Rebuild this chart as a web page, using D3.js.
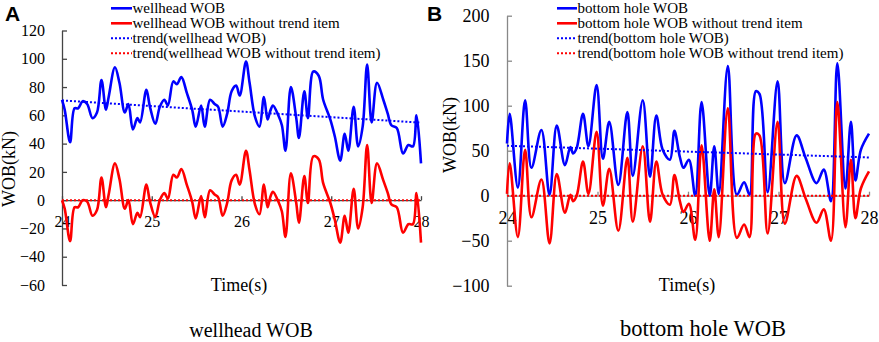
<!DOCTYPE html>
<html>
<head>
<meta charset="utf-8">
<script src="https://cdn.jsdelivr.net/npm/d3@7"></script>
<style>
  html, body { margin: 0; padding: 0; background: #fff; }
  svg { display: block; }
</style>
</head>
<body>
<svg id="chart" width="879" height="342"></svg>
<script>
// ---------- Panel A: wellhead WOB ----------
const leftTime = [24.00,24.03,24.09,24.14,24.18,24.23,24.28,24.34,24.39,24.44,
  24.49,24.52,24.59,24.64,24.70,24.74,24.79,24.84,24.87,24.94,
  24.98,25.04,25.09,25.14,25.18,25.24,25.28,25.33,25.39,25.45,
  25.49,25.55,25.59,25.65,25.70,25.74,25.79,25.84,25.89,25.94,
  25.98,26.05,26.09,26.15,26.20,26.25,26.29,26.32,26.35,26.41,
  26.45,26.49,26.55,26.61,26.64,26.70,26.74,26.80,26.86,26.91,
  26.99,27.04,27.10,27.15,27.19,27.25,27.30,27.35,27.40,27.45,
  27.51,27.58,27.63,27.67,27.73,27.80,27.86,27.91,27.95,28.00];
const leftWOB = [71,64,41,65,65,70,68,58,62,85,
  64,73,94,83,62,68,50,58,55,78,
  66,54,66,71,67,84,82,87,76,64,
  52,67,52,71,68,66,52,61,77,81,
  74,98,83,59,52,73,57,63,67,60,
  53,35,80,58,44,77,58,91,88,71,
  57,45,28,47,35,66,38,52,96,55,
  83,71,61,53,51,33,39,38,60,26];
const leftDetrended = [0,-6,-29,-5,-5,0,-1,-11,-7,16,
  -5,4,26,15,-6,0,-17,-9,-12,11,
  -1,-12,0,5,1,18,16,22,11,-1,
  -13,3,-12,7,4,2,-11,-2,14,18,
  11,35,21,-3,-10,11,-5,2,6,-1,
  -8,-26,19,-2,-16,17,-2,31,29,12,
  -2,-14,-30,-11,-23,8,-20,-5,39,-2,
  26,14,5,-3,-5,-23,-17,-17,5,-30];
const leftTrendTime = [24, 28];
const leftTrendWOB = [70.5, 54.8];
const leftTrendDetrended = [0, 0];
const leftYTicks = [-60,-40,-20,0,20,40,60,80,100,120];
const leftLegend = ["wellhead WOB","wellhead WOB without trend item","trend(wellhead WOB)","trend(wellhead WOB without trend item)"];

// ---------- Panel B: bottom hole WOB ----------
const rightTime = [24.00,24.03,24.12,24.20,24.27,24.38,24.47,24.55,24.64,24.70,
  24.73,24.77,24.84,24.90,24.99,25.06,25.13,25.23,25.33,25.39,
  25.50,25.58,25.65,25.72,25.80,25.85,25.91,25.95,26.01,26.08,
  26.15,26.24,26.29,26.34,26.44,26.54,26.62,26.68,26.75,26.79,
  26.88,26.99,27.07,27.20,27.30,27.42,27.50,27.58,27.65,27.74,
  27.80,27.85,27.91,28.00];
const rightWOB = [58,91,9,106,31,73,1,78,34,54,
  47,53,91,55,123,41,82,12,93,22,
  106,21,89,51,40,72,43,31,40,0,
  104,0,55,2,144,1,15,1,116,113,
  4,127,14,67,42,14,29,-6,147,8,
  82,17,51,69];
const rightDetrended = [2,36,-46,51,-24,18,-53,24,-19,1,
  -6,0,38,2,71,-11,30,-39,42,-29,
  55,-29,38,1,-10,23,-6,-18,-9,-49,
  56,-50,7,-46,97,-47,-32,-46,69,67,
  -42,82,-31,22,-3,-30,-15,-50,104,-35,
  40,-25,8,27];
const rightTrendTime = [24, 28];
const rightTrendWOB = [55.5, 42.5];
const rightTrendDetrended = [0, 0];
const rightYTicks = [-100,-50,0,50,100,150,200];
const rightLegend = ["bottom hole WOB","bottom hole WOB without trend item","trend(bottom hole WOB)","trend(bottom hole WOB without trend item)"];

const xTicks = [24,25,26,27,28];

const BLUE = "#0000ff", RED = "#ff0000";
const svg = d3.select("#chart");
svg.append("rect").attr("width",879).attr("height",342).attr("fill","#fff");

function drawPanel(cfg) {
  const g = svg.append("g");
  const x = d3.scaleLinear().domain([24,28]).range(cfg.xRange);
  const y = d3.scaleLinear().domain(cfg.yDomain).range(cfg.yRange);

  // y axis
  const yAxis = d3.axisLeft(y).tickValues(cfg.yTicks).tickSizeInner(-5).tickSizeOuter(0)
    .tickPadding(cfg.yPad).tickFormat(d3.format("d"));
  const ya = g.append("g").attr("transform",`translate(${cfg.xRange[0]},0)`).call(yAxis);
  ya.selectAll("path,line").attr("stroke",cfg.axisColor).attr("stroke-width",1.3);
  ya.selectAll("text").attr("font-family","'Liberation Serif', serif").attr("font-size",cfg.tickFont).attr("fill","#000");

  // x axis at zero
  const xAxis = d3.axisBottom(x).tickValues(xTicks).tickSizeInner(-4).tickSizeOuter(0)
    .tickPadding(cfg.xPad).tickFormat(d3.format("d"));
  const xa = g.append("g").attr("transform",`translate(0,${y(0)})`).call(xAxis);
  xa.selectAll("path,line").attr("stroke",cfg.axisColor).attr("stroke-width",1.3);
  xa.selectAll("text").attr("font-family","'Liberation Serif', serif").attr("font-size",cfg.tickFont).attr("fill","#000");

  const line = d3.line().x(d => x(d[0])).y(d => y(d[1])).curve(d3.curveCatmullRom.alpha(0.5));
  const straight = d3.line().x(d => x(d[0])).y(d => y(d[1]));

  g.append("path").attr("d", line(d3.zip(cfg.time, cfg.wob)))
    .attr("fill","none").attr("stroke",BLUE).attr("stroke-width",2.6).attr("stroke-linejoin","round");
  g.append("path").attr("d", line(d3.zip(cfg.time, cfg.det)))
    .attr("fill","none").attr("stroke",RED).attr("stroke-width",2.6).attr("stroke-linejoin","round");
  g.append("path").attr("d", straight(d3.zip(cfg.trendTime, cfg.trendWob)))
    .attr("fill","none").attr("stroke",BLUE).attr("stroke-width",2).attr("stroke-dasharray","2,2");
  g.append("path").attr("d", straight(d3.zip(cfg.trendTime, cfg.trendDet)))
    .attr("fill","none").attr("stroke",RED).attr("stroke-width",2).attr("stroke-dasharray","2,2");

  // legend
  const colors = [BLUE, RED, BLUE, RED];
  const dashed = [false,false,true,true];
  cfg.legend.forEach((label,i) => {
    const cy = 8.3 + i*15;
    g.append("line").attr("x1",cfg.legX[0]).attr("x2",cfg.legX[1]).attr("y1",cy).attr("y2",cy)
      .attr("stroke",colors[i]).attr("stroke-width",dashed[i]?2:2.6)
      .attr("stroke-dasharray",dashed[i]?"2,2":null);
    g.append("text").attr("x",cfg.legX[1]+0.5).attr("y",cy+5).text(label)
      .attr("font-family","'Liberation Serif', serif").attr("font-size",15).attr("fill","#000");
  });

  // axis titles
  g.append("text").attr("x",cfg.timeX).attr("y",291).attr("text-anchor","middle").text("Time(s)")
    .attr("font-family","'Liberation Serif', serif").attr("font-size",18).attr("fill","#000");
  g.append("text").attr("transform",`translate(${cfg.ylabX},${cfg.ylabY}) rotate(-90)`)
    .attr("text-anchor","middle").text("WOB(kN)")
    .attr("font-family","'Liberation Serif', serif").attr("font-size",18).attr("fill","#000");
  g.append("text").attr("x",cfg.titleX).attr("y",cfg.titleY).attr("text-anchor","middle").text(cfg.title)
    .attr("font-family","'Liberation Serif', serif").attr("font-size",cfg.titleFont).attr("fill","#000");
  g.append("text").attr("x",cfg.letterX).attr("y",21).text(cfg.letter)
    .attr("font-family","'Liberation Sans', Arial, sans-serif").attr("font-weight","bold")
    .attr("font-size",21).attr("fill","#000");
}

drawPanel({
  xRange:[62,421], yDomain:[-60,120], yRange:[285,30.5], yTicks:leftYTicks,
  yPad:17, xPad:15.5, tickFont:16, axisColor:"#444",
  time:leftTime, wob:leftWOB, det:leftDetrended,
  trendTime:leftTrendTime, trendWob:leftTrendWOB, trendDet:leftTrendDetrended,
  legend:leftLegend, legX:[111,132],
  timeX:239, ylabX:15, ylabY:169, titleX:251, titleY:337, title:"wellhead WOB", titleFont:20,
  letterX:5, letter:"A"
});
drawPanel({
  xRange:[507,869], yDomain:[-100,200], yRange:[285.7,15.7], yTicks:rightYTicks,
  yPad:17.5, xPad:15.5, tickFont:18, axisColor:"#888",
  time:rightTime, wob:rightWOB, det:rightDetrended,
  trendTime:rightTrendTime, trendWob:rightTrendWOB, trendDet:rightTrendDetrended,
  legend:rightLegend, legX:[557,577],
  timeX:687, ylabX:456, ylabY:135, titleX:703, titleY:336, title:"bottom hole WOB", titleFont:22.5,
  letterX:427, letter:"B"
});
</script>
</body>
</html>
